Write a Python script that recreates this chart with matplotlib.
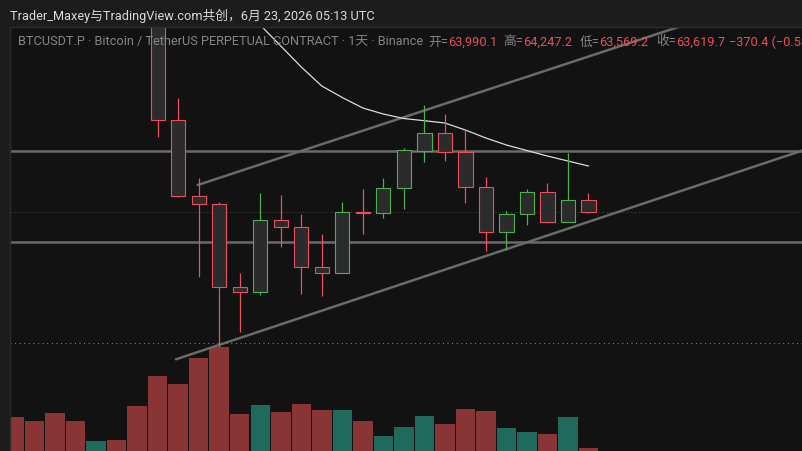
import matplotlib
matplotlib.use("Agg")
import matplotlib.pyplot as plt
from matplotlib.patches import Rectangle
from matplotlib.text import Annotation

# ---------------- data ----------------
title_text = "Trader_Maxey与TradingView.com共创，6月 23, 2026 05:13 UTC"
symbol_text = "BTCUSDT.P · Bitcoin / TetherUS PERPETUAL CONTRACT · 1天 · Binance"
ohlc_labels = ["开=", "高=", "低=", "收="]

candle_idx = list(range(0, 22))
opens = [71800, 66630, 64132, 63868, 61119, 60954, 63330, 63099, 61779, 61581, 63594,
         63561, 64386, 65627, 66201, 65574, 64439, 62954, 63528, 64254, 63284, 63990.1]
highs = [72400, 67356, 64716, 63944, 61581, 64221, 64165, 63538, 62878, 63934, 64353,
         64719, 65706, 67135, 66838, 66310, 64749, 63647, 64353, 64551, 65561, 64247.2]
lows = [66089, 64089, 61469, 59159, 59654, 60865, 62459, 60898, 60842, 61581, 62868,
        63416, 63693, 65264, 65297, 63911, 62317, 62350, 63175, 63251, 63284, 63569.2]
closes = [66630, 64132, 63858, 61119, 60954, 63330, 63099, 61779, 61581, 63594, 63571,
          64386, 65640, 66201, 65574, 64439, 62954, 63528, 64254, 63284, 63990, 63619.7]

volume_idx = list(range(-7, 22))
volumes = [85.8, 75.8, 95.8, 75.8, 25.8, 28.3, 113.3, 188.3, 168.3, 233.3, 260.8, 93.3,
           115.8, 98.3, 118.3, 103.3, 103.3, 75.8, 38.3, 60.8, 87.5, 68.3, 105.8, 100.8,
           58.3, 48.3, 43.3, 85.8, 8.3]
volume_up = [0, 0, 0, 0, 1, 0, 0, 0, 0, 0, 0, 0, 1, 0, 0, 0, 1, 0, 1, 1, 1, 0, 0, 0,
             1, 1, 0, 1, 0]

ma_idx = list(range(4, 22))
ma_vals = [70534, 69775, 69082, 68389, 67762, 67382, 67036, 66838, 66689, 66617, 66541,
           66310, 66046, 65815, 65633, 65452, 65287, 65122]

levels = [65607, 62614]
dotted_level = 59291
upper_channel = [(1.95, 64495), (16.04, 67630)]
lower_channel = [(0.89, 58743), (31.41, 65627)]

# ---------------- style ----------------
W, H = 802, 451
BAND = "#1c1c1c"
BG = "#121212"
UP = "#4caf50"
DOWN = "#e8505b"
VOL_UP = "#1f6a5d"
VOL_DOWN = "#8a3535"
BODY = "#2b2b2b"
LINE = "#6a6a6a"
FONT = ["Roboto", "Noto Sans CJK SC", "DejaVu Sans"]
FS = 9.2

fig = plt.figure(figsize=(W / 100, H / 100), dpi=100)
fig.patch.set_facecolor(BAND)

top_px = 27
left_px = 10
axpos = [left_px / W, 0, (W - left_px) / W, (H - top_px) / H]
fig.add_artist(Rectangle((left_px / W, 0), (W - left_px) / W, (H - top_px) / H,
                         transform=fig.transFigure, facecolor=BG, edgecolor="none", zorder=0))
fig.add_artist(plt.Line2D([left_px / W, left_px / W], [0, (H - top_px) / H],
                          transform=fig.transFigure, color="#2c2c2c", lw=1, zorder=0.5))
fig.add_artist(plt.Line2D([left_px / W, 1], [(H - top_px) / H, (H - top_px) / H],
                          transform=fig.transFigure, color="#2c2c2c", lw=1, zorder=0.5))

xl = ((left_px - 157.7) / 20.51, (W - 157.7) / 20.51)

axv = fig.add_axes(axpos)
axv.set_axis_off()
axv.set_xlim(*xl)
axv.set_ylim(0, (H - top_px) * 2.5)
axv.bar(volume_idx, volumes, width=0.95,
        color=[VOL_UP if u else VOL_DOWN for u in volume_up], linewidth=0)

ax = fig.add_axes(axpos)
ax.set_axis_off()
ax.set_xlim(*xl)
ax.set_ylim(55717, 69709)

for lv in levels:
    ax.axhline(lv, color=LINE, lw=1.8, zorder=2)
ax.axhline(dotted_level, color="#8a8a8a", lw=0.72, linestyle=(0, (1, 3.6)), zorder=2)
ax.axhline(closes[-1], color="#333333", lw=0.72, linestyle=(0, (2, 2)), zorder=2)

for (p0, p1) in (upper_channel, lower_channel):
    (x0, y0), (x1, y1) = p0, p1
    slope = (y1 - y0) / (x1 - x0)
    xe = 40
    ax.plot([x0, xe], [y0, y0 + slope * (xe - x0)], color=LINE, lw=1.8,
            solid_capstyle="round", zorder=2)

ax.plot(ma_idx, ma_vals, color="#dcdcdc", lw=0.9, zorder=3)

for i, o, h, l, c in zip(candle_idx, opens, highs, lows, closes):
    col = UP if c >= o else DOWN
    ax.plot([i, i], [l, h], color=col, lw=0.9, zorder=4, solid_capstyle="butt")
    ax.add_patch(Rectangle((i - 0.35, min(o, c)), 0.7, abs(c - o), facecolor=BODY,
                           edgecolor=col, lw=0.8, zorder=5))

# ---------------- texts ----------------
def fy(y):
    return 1 - y / H

fig.text(10 / W, fy(15.5), title_text, color="#dadada", fontsize=FS, family=FONT,
         va="center", ha="left")
fig.text(18 / W, fy(42), symbol_text, color="#858585", fontsize=FS, family=FONT,
         va="center", ha="left", zorder=10)

last_vals = [opens[-1], highs[-1], lows[-1], closes[-1]]
label_x = [428.3, 503.3, 579.3, 656]
for lab, val, lx in zip(ohlc_labels, last_vals, label_x):
    t = fig.text(lx / W, fy(42), lab, color="#858585", fontsize=FS, family=FONT,
                 va="center", ha="left", zorder=10)
    a = Annotation(f"{val:,.1f}", xy=(1, 0.5), xycoords=t, xytext=(0.3, 0),
                   textcoords="offset points", color=DOWN, fontsize=FS, family=FONT,
                   va="center", ha="left", zorder=10)
    fig.add_artist(a)

chg = closes[-1] - opens[-1]
pct = chg / opens[-1] * 100
fig.text(729 / W, fy(42), f"{chg:,.1f} ({pct:.2f}%)".replace("-", "−"), color=DOWN,
         fontsize=FS, family=FONT, va="center", ha="left", zorder=10)

fig.savefig("out.png", dpi=100, facecolor=fig.get_facecolor())
